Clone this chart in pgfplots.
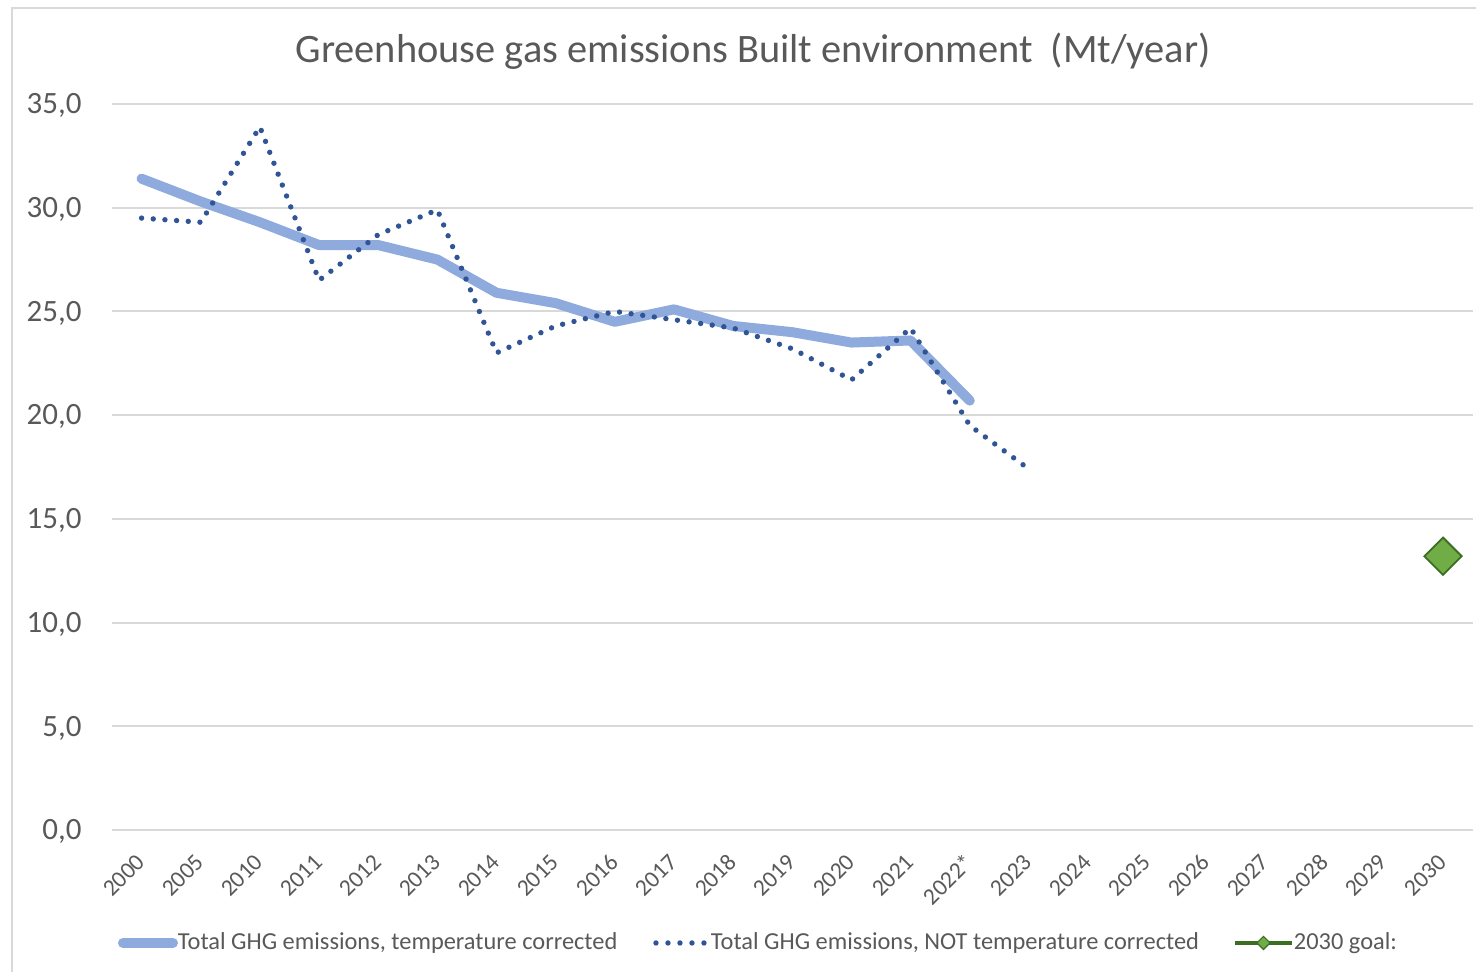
\documentclass[border=0pt]{standalone}
\usepackage{pgfplots}
\pgfplotsset{compat=1.18}
\usepackage{fontspec}
\setmainfont{Carlito}
\definecolor{textgray}{HTML}{595959}
\definecolor{gridgray}{HTML}{D9D9D9}
\definecolor{tcblue}{HTML}{8FAADC}
\definecolor{ntblue}{HTML}{2F5597}
\definecolor{goalgreen}{HTML}{70AD47}
\definecolor{goaldark}{HTML}{3B6E22}
\begin{document}
\begin{tikzpicture}
\useasboundingbox (-56pt,-70.5pt) rectangle (682pt,415pt);
\draw[gridgray, line width=1pt] (-50pt,-120pt) -- (-50pt,411pt) -- (720pt,411pt);
\node[anchor=base, text=textgray, font=\fontsize{20.2}{24}\selectfont, inner sep=0pt] at (320.5pt,383.6pt) {Greenhouse gas emissions Built environment~~(Mt/year)};
\begin{axis}[
  at={(0pt,0pt)}, anchor=south west,
  scale only axis, width=680.3pt, height=363pt,
  xmin=-0.5, xmax=22.5, ymin=0, ymax=35,
  clip=false,
  axis line style={draw=none},
  tick style={draw=none},
  ymajorgrids, grid style={gridgray, line width=1pt},
  ytick={0,5,10,15,20,25,30,35},
  yticklabels={{0,0},{5,0},{10,0},{15,0},{20,0},{25,0},{30,0},{35,0}},
  yticklabel style={font=\fontsize{15.5}{18}\selectfont, text=textgray, anchor=base east, inner sep=0pt, xshift=-15pt, yshift=-4.9pt},
  xtick={0,...,22},
  xticklabels={2000,2005,2010,2011,2012,2013,2014,2015,2016,2017,2018,2019,2020,2021,2022*,2023,2024,2025,2026,2027,2028,2029,2030},
  xticklabel style={font=\fontsize{11.8}{13}\selectfont, text=textgray, inner sep=0pt, xshift=-0.3pt, yshift=-14pt, rotate=45, anchor=east},
  legend columns=3,
  legend cell align=left,
  legend style={at={(axis description cs:0.0044,-0.1556)}, anchor=west, draw=none, fill=none, inner sep=0pt, outer sep=0pt, column sep=0pt, row sep=0pt,
    nodes={inner sep=0pt, outer sep=0pt, font=\fontsize{12.2}{14}\selectfont, text=textgray}},
]
\addplot[tcblue, line width=5pt, line cap=round, line join=round,
  legend image code/.code={\path[draw=none, fill=none] (0pt,-3pt) rectangle (30pt,3pt); \draw[tcblue, line width=5pt, line cap=round, solid] (2.5pt,0pt) -- (27.5pt,0pt);}]
  coordinates {(0,31.4) (1,30.3) (2,29.3) (3,28.2) (4,28.2) (5,27.5) (6,25.9) (7,25.4) (8,24.5) (9,25.1) (10,24.3) (11,24.0) (12,23.5) (13,23.6) (14,20.7)};
\addlegendentry{\makebox[237pt][l]{Total GHG emissions, temperature corrected}}
\addplot[ntblue, line width=2.7pt, line cap=round, line join=round, dash pattern=on 0pt off 5.85pt,
  legend image code/.code={\path[draw=none, fill=none] (0pt,-3pt) rectangle (29.5pt,3pt); \draw[ntblue, line width=2.7pt, line cap=round, dash pattern=on 0pt off 6pt] (2pt,0pt) -- (27pt,0pt);}]
  coordinates {(0,29.5) (1,29.3) (2,33.9) (3,26.5) (4,28.7) (5,29.9) (6,23.0) (7,24.3) (8,25.0) (9,24.6) (10,24.2) (11,23.2) (12,21.7) (13,24.2) (14,19.5) (15,17.4)};
\addlegendentry{\makebox[261pt][l]{Total GHG emissions, NOT temperature corrected}}
\addplot[only marks, mark=square*, mark size=6.6pt, mark options={rotate=45, fill=goalgreen, draw=goaldark, line width=0.9pt},
  legend image code/.code={\path[draw=none, fill=none] (0pt,-3pt) rectangle (29.5pt,3pt); \draw[goaldark, line width=2pt, solid] (0pt,0pt) -- (28.5pt,0pt); \draw[fill=goalgreen, draw=goaldark, line width=0.6pt, solid] (14.25pt,3.3pt) -- (17.55pt,0pt) -- (14.25pt,-3.3pt) -- (10.95pt,0pt) -- cycle;}]
  coordinates {(22,13.2)};
\addlegendentry{2030 goal:}
\end{axis}
\end{tikzpicture}
\end{document}
